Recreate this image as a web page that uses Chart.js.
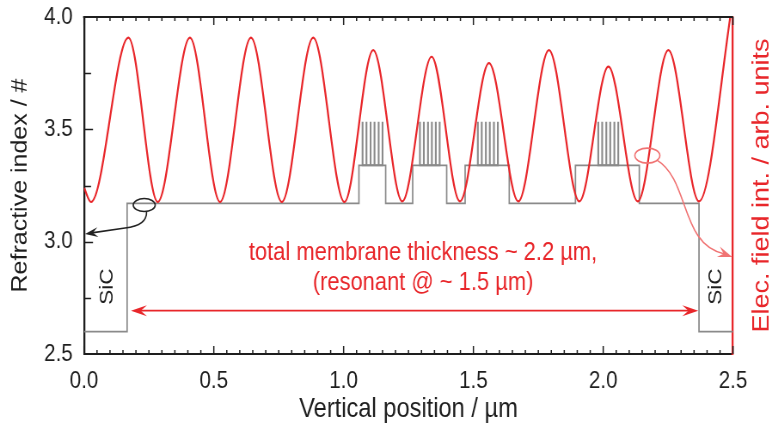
<!DOCTYPE html>
<html>
<head>
<meta charset="utf-8">
<script src="https://cdn.jsdelivr.net/npm/chart.js@4.4.0/dist/chart.umd.min.js"></script>
<style>
  html, body { margin: 0; padding: 0; background: #fff; }
  #wrap { width: 772px; height: 423px; overflow: hidden; }
  /* the plot is laid out wider and shown condensed, like the printed figure */
  #profileChart { width: 772px !important; height: 423px !important; display: block; }
</style>
</head>
<body>
<div id="wrap"><canvas id="profileChart" width="898" height="423" style="width:772px;height:423px"></canvas></div>
<script>
// ============================
// DATA
// ============================
// layer boundaries (µm) and refractive index of each layer in between
const layerEdges = [0, 0.166, 1.059, 1.162, 1.266, 1.397, 1.468, 1.638, 1.893, 2.139, 2.369, 2.5];
const layerIndex = [2.60, 3.17, 3.34, 3.17, 3.34, 3.17, 3.34, 3.17, 3.34, 3.17, 2.60];

// grating lines standing on the high-index layers
const gratingBase = 3.34;
const gratingTop = 3.534;
const gratingLines = [
  [1.073, 1.088, 1.104, 1.119, 1.135, 1.150],
  [1.294, 1.309, 1.325, 1.340, 1.355, 1.370],
  [1.517, 1.532, 1.548, 1.563, 1.579, 1.594],
  [1.981, 1.996, 2.012, 2.027, 2.043, 2.058],
];

// field intensity: start, then alternating minima / maxima (arb. units)
const fieldX = [0, 0.027, 0.171, 0.284, 0.408, 0.524, 0.643, 0.762, 0.883, 1.003, 1.114,
  1.226, 1.339, 1.448, 1.560, 1.673, 1.791, 1.908, 2.020, 2.133, 2.251, 2.369, 2.5];
const fieldY = [0.493, 0.451, 0.939, 0.451, 0.939, 0.451, 0.939, 0.451, 0.939, 0.451, 0.902,
  0.453, 0.882, 0.453, 0.863, 0.453, 0.902, 0.453, 0.853, 0.453, 0.902, 0.453, 1.053];

const xTicks = [0, 0.5, 1.0, 1.5, 2.0, 2.5];
const yTicks = [2.5, 3.0, 3.5, 4.0];

// ============================
// BUILD POINTS
// ============================
const profilePts = [];
layerIndex.forEach((n, i) => {
  profilePts.push({ x: layerEdges[i], y: n });
  profilePts.push({ x: layerEdges[i + 1], y: n });
});

const gratingPts = [];
gratingLines.forEach((group) => {
  group.forEach((x) => {
    gratingPts.push({ x: x, y: gratingBase });
    gratingPts.push({ x: x, y: gratingTop });
    gratingPts.push({ x: x, y: gratingBase });
  });
  gratingPts.push({ x: group[group.length - 1], y: null });
});

const fieldPts = fieldX.map((x, i) => ({ x: x, y: fieldY[i] }));

const RED = "#e8262a";
const PINK = "#f07373";
const INK = "#1e1e1e";
const FONT = "'Liberation Sans', Arial, sans-serif";
const SQUEEZE = 772 / 898; // horizontal condensing of the canvas on screen

// ============================
// DRAWING HELPERS
// ============================
function arrowHead(ctx, x, y, ang, len, half) {
  ctx.save();
  ctx.translate(x, y);
  ctx.rotate(ang);
  ctx.beginPath();
  ctx.moveTo(0, 0);
  ctx.lineTo(-len, -half);
  ctx.lineTo(-len * 0.62, 0);
  ctx.lineTo(-len, half);
  ctx.closePath();
  ctx.fill();
  ctx.restore();
}

function drawTicks(chart) {
  const { ctx, chartArea: a, scales } = chart;
  ctx.save();
  ctx.strokeStyle = INK;
  ctx.lineWidth = 1.5;
  ctx.beginPath();
  // bottom + top, every 0.05 µm
  for (let i = 0; i <= 50; i++) {
    const px = scales.x.getPixelForValue(i * 0.05);
    const len = i % 10 === 0 ? 8 : 4;
    ctx.moveTo(px, a.bottom);
    ctx.lineTo(px, a.bottom - len);
    ctx.moveTo(px, a.top);
    ctx.lineTo(px, a.top + len);
  }
  ctx.stroke();
  // left, every 0.25
  ctx.lineWidth = 1.3;
  ctx.beginPath();
  for (let i = 1; i < 6; i++) {
    const py = Math.round(scales.y.getPixelForValue(2.5 + i * 0.25)) + 0.5;
    const len = (i % 2 === 0 ? 9 : 7) / SQUEEZE;
    ctx.moveTo(a.left, py);
    ctx.lineTo(a.left + len, py);
  }
  ctx.stroke();
  // top frame line
  ctx.lineWidth = 2;
  ctx.beginPath();
  ctx.moveTo(a.left - 1, a.top);
  ctx.lineTo(a.right, a.top);
  ctx.stroke();
  ctx.restore();
}

function drawNotes(chart) {
  const { ctx, scales } = chart;
  const px = (v) => scales.x.getPixelForValue(v);
  const py = (v) => scales.y.getPixelForValue(v);
  ctx.save();

  // black marker: ellipse on the profile, arrow to the left axis
  ctx.strokeStyle = "#222";
  ctx.fillStyle = "#222";
  ctx.lineWidth = 1.6;
  ctx.beginPath();
  ctx.ellipse(px(0.232), py(3.163), 11 / SQUEEZE, 6.5, 0, 0, Math.PI * 2);
  ctx.stroke();
  ctx.beginPath();
  ctx.moveTo(px(0.241), py(3.134));
  ctx.quadraticCurveTo(px(0.243), py(3.070), px(0.158), py(3.061));
  ctx.lineTo(px(0.030), py(3.039));
  ctx.stroke();
  arrowHead(ctx, px(0.004), py(3.034), Math.atan2(py(3.034) - py(3.061), px(0.004) - px(0.158)), 15, 5);

  // red marker: ellipse on the field curve, arrow to the right axis
  ctx.strokeStyle = PINK;
  ctx.fillStyle = PINK;
  ctx.beginPath();
  ctx.ellipse(px(2.170), py(3.383), 12.5 / SQUEEZE, 7.5, 0, 0, Math.PI * 2);
  ctx.stroke();
  const p0 = [px(2.207), py(3.363)];
  const p1 = [px(2.334), py(3.274)];
  const p2 = [px(2.296), py(2.985)];
  const p3 = [px(2.497), py(2.932)];
  ctx.beginPath();
  ctx.moveTo(p0[0], p0[1]);
  ctx.bezierCurveTo(p1[0], p1[1], p2[0], p2[1], p3[0] - 9, p3[1] - 3);
  ctx.stroke();
  arrowHead(ctx, p3[0], p3[1], Math.atan2(p3[1] - p2[1], p3[0] - p2[0]) + 0.12, 17, 5.5);

  // double arrow for the membrane thickness
  ctx.strokeStyle = RED;
  ctx.fillStyle = RED;
  const ya = py(2.693);
  const xl = px(0.181);
  const xr = px(2.366);
  ctx.beginPath();
  ctx.moveTo(xl + 9, ya);
  ctx.lineTo(xr - 9, ya);
  ctx.stroke();
  arrowHead(ctx, xl, ya, Math.PI, 18.5, 5.5);
  arrowHead(ctx, xr, ya, 0, 18.5, 5.5);

  // texts
  ctx.font = "25.5px " + FONT;
  ctx.textAlign = "center";
  ctx.textBaseline = "middle";
  ctx.fillText("total membrane thickness ~ 2.2 µm,", px(1.306), py(2.95));
  ctx.fillText("(resonant @ ~ 1.5 µm)", px(1.306), py(2.816));

  ctx.fillStyle = INK;
  ctx.font = "22.5px " + FONT;
  [[0.0913, 2.80], [2.434, 2.80]].forEach(([x, y]) => {
    ctx.save();
    ctx.translate(px(x), py(y));
    ctx.rotate(-Math.PI / 2);
    ctx.fillText("SiC", 0, 0);
    ctx.restore();
  });

  // right axis title, reading upwards
  ctx.fillStyle = RED;
  ctx.font = "27px " + FONT;
  ctx.save();
  ctx.translate(762 / SQUEEZE, (chart.chartArea.top + chart.chartArea.bottom) / 2);
  ctx.rotate(-Math.PI / 2);
  ctx.fillText("Elec. field int. / arb. units", 0, 0);
  ctx.restore();

  ctx.restore();
}

const decorPlugin = {
  id: "decor",
  afterDraw(chart) {
    drawTicks(chart);
    drawNotes(chart);
  },
};

// ============================
// CHART
// ============================
const ctx = document.getElementById("profileChart").getContext("2d");

const profileChart = new Chart(ctx, {
  type: "scatter",
  data: {
    datasets: [
      {
        label: "Field intensity",
        data: fieldPts,
        yAxisID: "y1",
        showLine: true,
        borderColor: RED,
        borderWidth: 2.2,
        pointRadius: 0,
        cubicInterpolationMode: "monotone",
        order: 0,
      },
      {
        label: "Refractive index",
        data: profilePts,
        yAxisID: "y",
        showLine: true,
        borderColor: "#8a8a8a",
        borderWidth: 1.7,
        pointRadius: 0,
        tension: 0,
        order: 1,
      },
      {
        label: "Grating",
        data: gratingPts,
        yAxisID: "y",
        showLine: true,
        spanGaps: false,
        borderColor: "#8a8a8a",
        borderWidth: 2.1,
        pointRadius: 0,
        tension: 0,
        order: 2,
      },
    ],
  },
  options: {
    responsive: false,
    animation: false,
    devicePixelRatio: 1,
    layout: { padding: { top: 17, left: 0, right: 0, bottom: 0 } },
    plugins: {
      legend: { display: false },
      tooltip: { enabled: false },
    },
    scales: {
      x: {
        type: "linear",
        position: "bottom",
        min: 0,
        max: 2.5,
        afterBuildTicks: (s) => { s.ticks = xTicks.map((v) => ({ value: v })); },
        afterFit: (s) => { s.height = 69; },
        ticks: {
          callback: (v) => Number(v).toFixed(1),
          font: { family: FONT, size: 24 },
          color: INK,
          padding: 13,
          maxRotation: 0,
        },
        grid: { display: false, drawTicks: false },
        border: { display: true, color: INK, width: 2 },
        title: {
          display: true,
          text: "Vertical position / µm",
          font: { family: FONT, size: 27.5, lineHeight: 1.0 },
          color: INK,
          padding: { top: 0, bottom: 0 },
        },
      },
      y: {
        type: "linear",
        position: "left",
        min: 2.5,
        max: 4.0,
        afterBuildTicks: (s) => { s.ticks = yTicks.map((v) => ({ value: v })); },
        afterFit: (s) => {
          s.width = 84 / SQUEEZE;
          // labels may overhang the plot edges, no extra room needed
          s.paddingTop = 0;
          s.paddingBottom = 0;
        },
        ticks: {
          callback: (v) => Number(v).toFixed(1),
          font: { family: FONT, size: 24 },
          color: INK,
          padding: 13,
        },
        grid: { display: false, drawTicks: false },
        border: { display: true, color: INK, width: 2.3 },
        title: {
          display: true,
          text: "Refractive index / #",
          font: { family: FONT, size: 25 },
          color: INK,
          padding: { top: 9, bottom: 0 },
        },
      },
      y1: {
        type: "linear",
        position: "right",
        min: 0,
        max: 1,
        afterFit: (s) => {
          s.width = 898 - 733 / SQUEEZE;
          s.paddingTop = 0;
          s.paddingBottom = 0;
        },
        ticks: { display: false },
        grid: { display: false, drawTicks: false },
        border: { display: true, color: RED, width: 2.3 },
      },
    },
  },
  plugins: [decorPlugin],
});
</script>
</body>
</html>
